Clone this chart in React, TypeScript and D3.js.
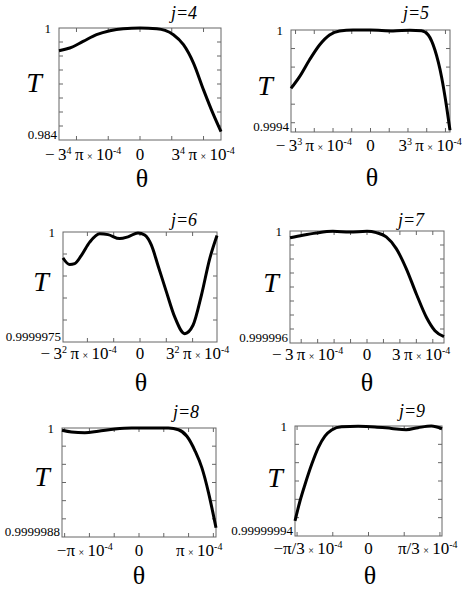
import React from "react";
import * as d3 from "d3";

// theta is given in units of each panel's labelled tick (e.g. 3^4·π·10^-4 for j=4)
const thetaJ4 = [-1.275, -1.106, -0.896, -0.684, -0.474, -0.264, 0, 0.264, 0.395, 0.526, 0.684, 0.842, 1.0, 1.158, 1.275];
const tJ4 = [0.99675, 0.99714, 0.99808, 0.99904, 0.99961, 0.9999, 1.0, 0.9999, 0.99966, 0.99904, 0.99761, 0.99499, 0.99116, 0.98758, 0.9852];

const thetaJ5 = [-1.414, -1.264, -1.086, -0.907, -0.729, -0.55, -0.3125, 0, 0.402, 0.7, 0.907, 1.027, 1.146, 1.264, 1.354, 1.414];
const tJ5 = [0.999685, 0.999747, 0.999838, 0.999919, 0.999973, 0.999995, 1.0, 1.0, 0.999995, 0.9999985, 0.999996, 0.999973, 0.999892, 0.999747, 0.999585, 0.999459];

const thetaJ6 = [-1.464, -1.337, -1.241, -1.114, -0.956, -0.766, -0.608, -0.386, -0.228, -0.038, 0.089, 0.217, 0.342, 0.502, 0.66, 0.85, 1.008, 1.167, 1.325, 1.464];
const tJ6 = [0.99999941, 0.99999926, 0.99999928, 0.99999947, 0.99999977, 0.99999996, 0.99999994, 0.99999985, 0.99999989, 0.99999998, 0.99999993, 0.9999997, 0.99999924, 0.99999864, 0.99999807, 0.99999769, 0.99999788, 0.99999856, 0.99999939, 0.99999992];

const thetaJ7 = [-1.559, -1.301, -1.03, -0.691, -0.352, 0, 0.189, 0.39, 0.593, 0.797, 1.0, 1.203, 1.376, 1.559];
const tJ7 = [0.99999976, 0.99999985, 0.99999993, 0.99999999, 0.99999996, 0.99999999, 0.99999994, 0.99999979, 0.99999937, 0.99999865, 0.99999775, 0.99999692, 0.99999644, 0.99999623];

const thetaJ8 = [-1.553, -1.362, -1.093, -0.824, -0.486, -0.148, 0.188, 0.593, 0.796, 0.966, 1.134, 1.269, 1.403, 1.484, 1.553];
const tJ8 = [0.999999975, 0.999999956, 0.999999948, 0.999999964, 0.999999989, 1, 1, 1, 0.999999981, 0.999999909, 0.999999744, 0.999999561, 0.999999286, 0.999999085, 0.999998902];

const thetaJ9 = [-1.029, -0.959, -0.889, -0.795, -0.703, -0.61, -0.516, -0.376, -0.145, 0.089, 0.322, 0.527, 0.693, 0.88, 1.029];
const tJ9 = [0.9999999482, 0.9999999591, 0.9999999681, 0.9999999791, 0.9999999882, 0.9999999945, 0.9999999978, 0.9999999996, 0.9999999998, 0.9999999995, 0.9999999987, 0.999999998, 0.9999999991, 1.0, 0.9999999985];

// y range bottom, tick step, bottom label
const yMins = [0.984, 0.99945, 0.9999975, 0.999996, 0.9999988, 0.99999994];
const ySteps = [0.002, 0.0001, 0.0000005, 0.0000005, 0.0000002, 0.00000001];
const yMinLabels = ["0.984", "0.9994", "0.9999975", "0.999996", "0.9999988", "0.99999994"];
// x half range and tick step, in label units
const xMaxes = [1.275, 1.414, 1.464, 1.56, 1.553, 1.029];
const xSteps = [0.5, 1 / 3, 0.5, 1 / 3, 0.5, 0.5];
// "^" marks superscript
const TS = "\u2009";
const xLabelParts = [
  ["3", "^4", TS + "π" + TS, "×", TS + "10", "^-4"],
  ["3", "^3", TS + "π" + TS, "×", TS + "10", "^-4"],
  ["3", "^2", TS + "π" + TS, "×", TS + "10", "^-4"],
  ["3" + TS + "π" + TS, "×", TS + "10", "^-4"],
  ["π" + TS, "×", TS + "10", "^-4"],
  ["π/3" + TS, "×", TS + "10", "^-4"],
];
const minusPrefix = ["−" + TS, "−" + TS, "−" + TS, "−" + TS, "−", "−"];
const titles = ["j=4", "j=5", "j=6", "j=7", "j=8", "j=9"];
const thetas = [thetaJ4, thetaJ5, thetaJ6, thetaJ7, thetaJ8, thetaJ9];
const ts = [tJ4, tJ5, tJ6, tJ7, tJ8, tJ9];

// layout
const frames = [
  { x: 59, y: 28, w: 162, h: 112, tx: 184, ty: 19, Tx: 34, Ty: 92, thx: 142, thy: 187, xly: 160, negAt: -0.894, posAt: 0.995 },
  { x: 291, y: 30, w: 159, h: 102, tx: 416, ty: 19, Tx: 265, Ty: 95, thx: 372, thy: 186, xly: 151, negAt: -1.009, posAt: 1.06 },
  { x: 63, y: 232, w: 154, h: 110, tx: 184, ty: 226, Tx: 41, Ty: 291, thx: 141, thy: 391, xly: 359, negAt: -1.165, posAt: 1.097 },
  { x: 290, y: 231, w: 154, h: 112, tx: 411, ty: 226, Tx: 271, Ty: 292, thx: 367, thy: 391, xly: 360, negAt: -1.205, posAt: 1.098 },
  { x: 62, y: 428, w: 154, h: 109, tx: 186, ty: 418, Tx: 42, Ty: 486, thx: 139, thy: 584, xly: 556, negAt: -1.093, posAt: 1.215 },
  { x: 295, y: 426, w: 147, h: 110, tx: 412, ty: 417, Tx: 275, Ty: 487, thx: 370, thy: 584, xly: 554, negAt: -0.847, posAt: 0.829 },
];

const FONT = "'Liberation Serif', 'Times New Roman', serif";
const FRAME = "#666";

function Rich({ parts, prefix }: { parts: string[]; prefix: string }) {
  let raised = false;
  const out: any[] = [];
  if (prefix) out.push(<tspan key="p">{prefix}</tspan>);
  parts.forEach((s, i) => {
    if (s.startsWith("^")) {
      out.push(
        <tspan key={i} dy={raised ? 0 : -6} fontSize={10}>
          {s.slice(1)}
        </tspan>
      );
      raised = true;
    } else {
      out.push(
        <tspan key={i} dy={raised ? 6 : 0} fontSize={s === "×" ? 10 : undefined}>
          {s}
        </tspan>
      );
      raised = false;
    }
  });
  return <>{out}</>;
}

function Panel({ i }: { i: number }) {
  const f = frames[i];
  const x = d3.scaleLinear().domain([-xMaxes[i], xMaxes[i]]).range([f.x, f.x + f.w]);
  const y = d3.scaleLinear().domain([yMins[i], 1]).range([f.y + f.h, f.y]);
  const pts = thetas[i].map((t, k) => [t, ts[i][k]] as [number, number]);
  const line = d3
    .line<[number, number]>()
    .x((d) => x(d[0]))
    .y((d) => y(d[1]))
    .curve(d3.curveMonotoneX);

  const xt: number[] = [];
  const n = Math.floor(xMaxes[i] / xSteps[i] + 1e-6);
  for (let k = -n; k <= n; k++) {
    const v = k * xSteps[i];
    if (Math.abs(v) < xMaxes[i] - 1e-3) xt.push(v);
  }
  const yt: number[] = [];
  for (let k = 1; k < 100; k++) {
    const v = 1 - k * ySteps[i];
    if (v <= yMins[i] + ySteps[i] * 0.05) break;
    yt.push(v);
  }
  const L = 4;
  return (
    <g>
      <rect x={f.x} y={f.y} width={f.w} height={f.h} fill="none" stroke={FRAME} strokeWidth={1} />
      {xt.map((v, k) => (
        <g key={"x" + k} stroke={FRAME} strokeWidth={1}>
          <line x1={x(v)} x2={x(v)} y1={f.y + f.h} y2={f.y + f.h - L} />
          <line x1={x(v)} x2={x(v)} y1={f.y} y2={f.y + L} />
        </g>
      ))}
      {yt.map((v, k) => (
        <g key={"y" + k} stroke={FRAME} strokeWidth={1}>
          <line x1={f.x} x2={f.x + L} y1={y(v)} y2={y(v)} />
          <line x1={f.x + f.w} x2={f.x + f.w - L} y1={y(v)} y2={y(v)} />
        </g>
      ))}
      <path d={line(pts) || ""} fill="none" stroke="#000" strokeWidth={3} strokeLinejoin="round" />
      <text x={f.x - 8} y={f.y + 5} textAnchor="end" fontSize={13} fontFamily={FONT}>
        1
      </text>
      <text x={f.x - 2} y={f.y + f.h - 1} textAnchor="end" fontSize={13} fontFamily={FONT}>
        {yMinLabels[i]}
      </text>
      <text x={x(f.negAt)} y={f.xly} textAnchor="middle" fontSize={17} fontFamily={FONT} style={{ whiteSpace: "pre" }}>
        <Rich parts={xLabelParts[i]} prefix={minusPrefix[i]} />
      </text>
      <text x={x(0)} y={f.xly} textAnchor="middle" fontSize={17} fontFamily={FONT}>
        0
      </text>
      <text x={x(f.posAt)} y={f.xly} textAnchor="middle" fontSize={17} fontFamily={FONT} style={{ whiteSpace: "pre" }}>
        <Rich parts={xLabelParts[i]} prefix="" />
      </text>
      <text x={f.tx} y={f.ty} textAnchor="middle" fontSize={18} fontStyle="italic" fontFamily={FONT}>
        {titles[i]}
      </text>
      <text x={f.Tx} y={f.Ty} textAnchor="middle" fontSize={28} fontStyle="italic" fontFamily={FONT}>
        T
      </text>
      <text x={f.thx} y={f.thy} textAnchor="middle" fontSize={26} fontFamily={FONT}>
        θ
      </text>
    </g>
  );
}

export default function App() {
  return (
    <svg width={463} height={594} style={{ position: "absolute", left: 0, top: 0, background: "#fff" }}>
      {frames.map((_, i) => (
        <Panel key={i} i={i} />
      ))}
    </svg>
  );
}
